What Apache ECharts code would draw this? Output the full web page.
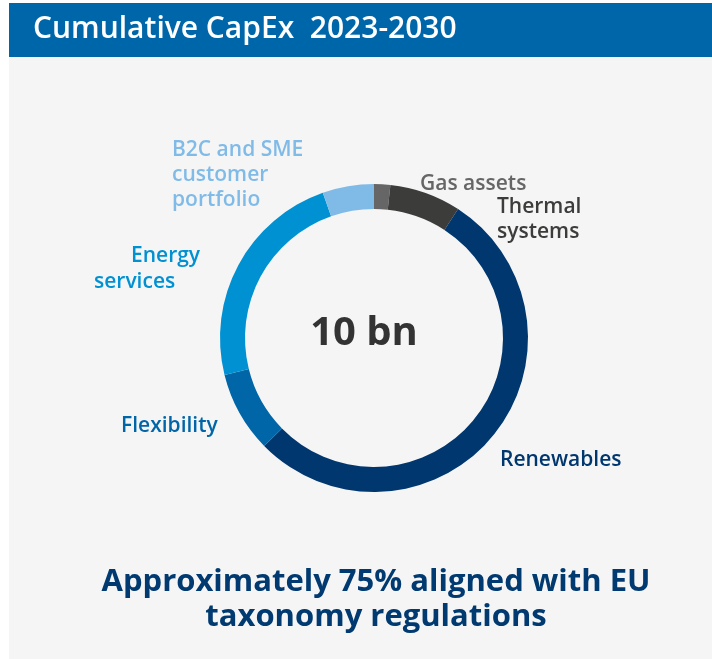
<!DOCTYPE html>
<html>
<head>
<meta charset="utf-8">
<script src="https://cdn.jsdelivr.net/npm/echarts@6/dist/echarts.min.js"></script>
<style>
html,body{margin:0;padding:0;background:#ffffff;}
#c{width:712px;height:659px;}
</style>
</head>
<body>
<div id="c"></div>
<script>
// Data (share of cumulative CapEx, %), clockwise from 12 o'clock
const categories = ['Gas assets', 'Thermal systems', 'Renewables', 'Flexibility', 'Energy services', 'B2C and SME customer portfolio'];
const values = [1.7, 7.5, 53.5, 8.5, 23.5, 5.4];
const colors = ['#666666', '#3c3c3b', '#00376e', '#0066a8', '#0091d3', '#80bbe8'];
const labelTexts = ['Gas assets', 'Thermal\nsystems', 'Renewables', 'Flexibility', '{a|Energy}\n{b|services}', 'B2C and SME\ncustomer\nportfolio'];
const titleText = 'Cumulative CapEx  2023-2030';
const centerText = '10 bn';
const footerLines = ['Approximately 75% aligned with EU', 'taxonomy regulations'];

// label anchor positions (layout only)
const labelPos = [
  {x: 420, y: 184},
  {x: 497, y: 220},
  {x: 500, y: 460},
  {x: 121, y: 426},
  {x: 94, y: 269},
  {x: 172, y: 175}
];

const FONT = '"Open Sans", "Noto Sans", sans-serif';
const FS = 21;
const chart = echarts.init(document.getElementById('c'), null, {renderer: 'canvas'});

const data = categories.map((name, i) => ({
  name: name,
  value: values[i],
  itemStyle: {color: colors[i]},
  label: {
    formatter: labelTexts[i],
    color: colors[i],
    rich: {
      a: {color: colors[i], fontSize: FS, fontWeight: 600, fontFamily: FONT, padding: [0, 0, 0, 37], lineHeight: 26},
      b: {color: colors[i], fontSize: FS, fontWeight: 600, fontFamily: FONT, lineHeight: 26}
    }
  }
}));

chart.setOption({
  animation: false,
  backgroundColor: '#ffffff',
  graphic: [
    {type: 'rect', z: -10, shape: {x: 9, y: 57, width: 703, height: 602}, style: {fill: '#f5f5f5'}},
    {type: 'rect', z: -9, shape: {x: 9, y: 3, width: 703, height: 54}, style: {fill: '#0066aa'}},
    {type: 'text', z: 10, x: 33, y: 29, style: {text: titleText, fill: '#ffffff', font: '600 30px ' + FONT, textAlign: 'left', textVerticalAlign: 'middle'}},
    {type: 'text', z: 10, x: 364, y: 334, style: {text: centerText, fill: '#333333', font: 'bold 40px ' + FONT, textAlign: 'center', textVerticalAlign: 'middle'}},
    {type: 'text', z: 10, x: 376, y: 582, style: {text: footerLines[0], fill: '#003a70', font: 'bold 31px ' + FONT, textAlign: 'center', textVerticalAlign: 'middle'}},
    {type: 'text', z: 10, x: 376, y: 617, style: {text: footerLines[1], fill: '#003a70', font: 'bold 31px ' + FONT, textAlign: 'center', textVerticalAlign: 'middle'}}
  ],
  series: [{
    type: 'pie',
    center: [374, 338],
    radius: [129, 154],
    startAngle: 90,
    clockwise: true,
    silent: true,
    avoidLabelOverlap: false,
    itemStyle: {borderWidth: 0},
    label: {
      show: true,
      position: 'outside',
      fontSize: FS,
      fontWeight: 600,
      fontFamily: FONT,
      lineHeight: 25,
      align: 'left'
    },
    labelLine: {show: false},
    labelLayout: function (p) {
      const pos = labelPos[p.dataIndex];
      return {x: pos.x, y: pos.y, align: 'left', verticalAlign: 'middle', hideOverlap: false};
    },
    data: data
  }]
});
</script>
</body>
</html>
